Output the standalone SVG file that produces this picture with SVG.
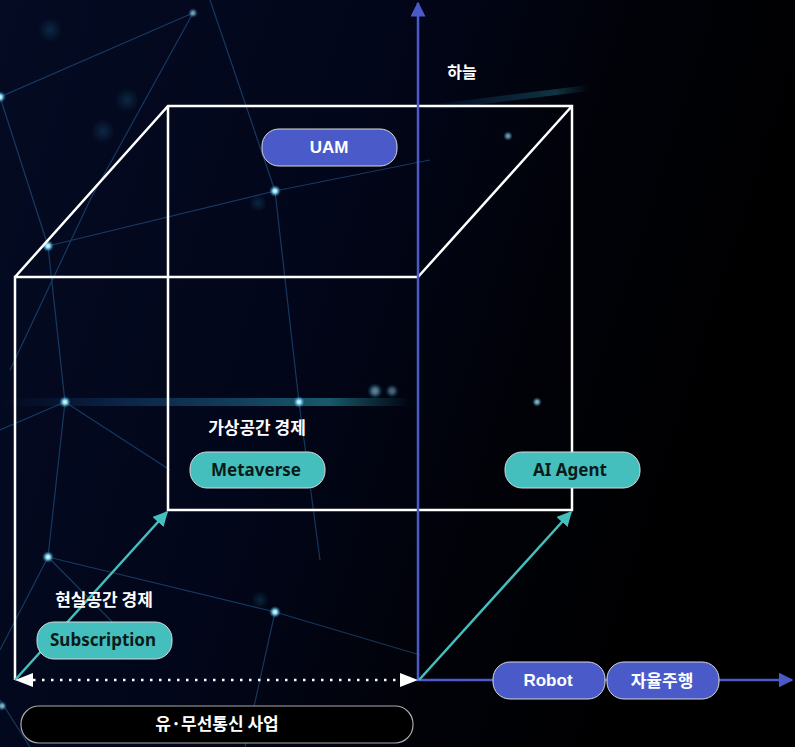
<svg xmlns="http://www.w3.org/2000/svg" width="795" height="747" viewBox="0 0 795 747">
<defs>
<linearGradient id="bg" x1="0" y1="0" x2="1" y2="0.3">
<stop offset="0" stop-color="#040b22"/>
<stop offset="0.45" stop-color="#02061a"/>
<stop offset="0.75" stop-color="#010208"/>
<stop offset="1" stop-color="#000000"/>
</linearGradient>
<radialGradient id="glow">
<stop offset="0" stop-color="#e8fbff"/>
<stop offset="0.35" stop-color="#8fdcf0"/>
<stop offset="1" stop-color="#1a6fa8" stop-opacity="0"/>
</radialGradient>
<radialGradient id="haze">
<stop offset="0" stop-color="#1b5f86" stop-opacity="0.35"/>
<stop offset="1" stop-color="#1b5f86" stop-opacity="0"/>
</radialGradient>
<linearGradient id="streak" x1="0" y1="0" x2="1" y2="0">
<stop offset="0" stop-color="#1a5a9a" stop-opacity="0"/>
<stop offset="0.3" stop-color="#1f6aa8" stop-opacity="0.5"/>
<stop offset="0.8" stop-color="#2fb6c6" stop-opacity="0.8"/>
<stop offset="1" stop-color="#2fb6c6" stop-opacity="0"/>
</linearGradient>
<marker id="blueHead" viewBox="0 0 10 10" refX="9" refY="5" markerWidth="6" markerHeight="6" markerUnits="strokeWidth" orient="auto">
<path d="M0,0 L10,5 L0,10 Z" fill="#4a5bc9"/>
</marker>
<marker id="tealHead" viewBox="0 0 10 10" refX="9" refY="5" markerWidth="6" markerHeight="6" markerUnits="strokeWidth" orient="auto">
<path d="M0,0 L10,5 L0,10 Z" fill="#45bfbd"/>
</marker>
</defs>
<style>
.net{stroke:#2a6aa6;stroke-width:1.2;fill:none;opacity:0.5}
.cube{stroke:#ffffff;stroke-width:2.5;fill:none}
.axis{stroke:#4a5bc9;stroke-width:2.5;fill:none}
.teal{stroke:#45bfbd;stroke-width:2.5;fill:none}
.pillT{fill:#45bfbd;stroke:#d8d8d8;stroke-width:1}
.pillB{fill:#4a5bc9;stroke:#d8d8d8;stroke-width:1}
.lab{font-family:"Noto Sans CJK KR","Noto Sans",sans-serif;font-weight:700;font-size:17px;fill:#ffffff;text-anchor:middle}
.dk{font-family:"Noto Sans","Noto Sans CJK KR",sans-serif;font-weight:700;font-size:17px;fill:#0b1a1a;text-anchor:middle}
.wt{font-family:"Liberation Sans","Noto Sans CJK KR",sans-serif;font-weight:700;font-size:17px;fill:#ffffff;text-anchor:middle}
</style>
<g id="background">
<rect width="795" height="747" fill="url(#bg)"/>
<path class="net" d="M0,97 L193,13 M0,97 L48,246 L65,402 L48,557 L0,650 M193,13 L90,200 L10,370 M210,0 L275,191 L299,402 L320,560 M48,246 L275,191 L430,160 M48,557 L275,612 L420,655 M275,612 L245,747 M65,402 L0,430 M65,402 L170,470 M0,700 L30,747 M48,557 L140,650"/>
<rect x="0" y="398" width="410" height="8" fill="url(#streak)" opacity="0.6"/>
<rect x="420" y="96" width="170" height="6" fill="url(#streak)" opacity="0.35" transform="rotate(-7 500 100)"/>
<circle cx="0" cy="97" r="6" fill="url(#glow)"/>
<circle cx="48" cy="246" r="6" fill="url(#glow)"/>
<circle cx="65" cy="402" r="6" fill="url(#glow)"/>
<circle cx="48" cy="557" r="6" fill="url(#glow)"/>
<circle cx="275" cy="191" r="6" fill="url(#glow)"/>
<circle cx="275" cy="612" r="6" fill="url(#glow)"/>
<circle cx="299" cy="402" r="6" fill="url(#glow)"/>
<circle cx="537" cy="402" r="5" fill="url(#glow)" opacity="0.7"/>
<circle cx="508" cy="136" r="5" fill="url(#glow)" opacity="0.6"/>
<circle cx="193" cy="13" r="5" fill="url(#glow)" opacity="0.6"/>
<circle cx="2" cy="706" r="5" fill="url(#glow)" opacity="0.7"/>
<circle cx="375" cy="391" r="8" fill="url(#glow)" opacity="0.5"/>
<circle cx="392" cy="391" r="7" fill="url(#glow)" opacity="0.4"/>
<circle cx="127" cy="100" r="12" fill="url(#haze)"/>
<circle cx="103" cy="131" r="12" fill="url(#haze)"/>
<circle cx="258" cy="203" r="9" fill="url(#haze)"/>
<circle cx="260" cy="600" r="9" fill="url(#haze)"/>
<circle cx="50" cy="30" r="12" fill="url(#haze)"/>
</g>
<g id="connectors">
<path class="cube" d="M15,680 L15,277 L418,277 M15,277 L168,106 L572,106 L572,510 L168,510 L168,106 M418,277 L572,106"/>
<line class="axis" x1="418" y1="681" x2="418" y2="3" marker-end="url(#blueHead)"/>
<line class="axis" x1="417" y1="680" x2="792" y2="680" marker-end="url(#blueHead)"/>
<line class="teal" x1="15" y1="680" x2="167" y2="512" marker-end="url(#tealHead)"/>
<line class="teal" x1="419" y1="680" x2="571" y2="512" marker-end="url(#tealHead)"/>
<line x1="33" y1="680" x2="400" y2="680" stroke="#ffffff" stroke-width="2.5" stroke-dasharray="2.5 6.5" stroke-linecap="butt"/>
<path d="M15,680 L33,673 L33,687 Z M418,680 L400,673 L400,687 Z" fill="#ffffff"/>
</g>
<g id="node-sky"><text class="lab" x="462" y="78" style="font-size:16px">하늘</text></g>
<g id="node-uam"><rect class="pillB" x="262" y="129" width="135" height="37" rx="17"/><text class="wt" x="329" y="153">UAM</text></g>
<g id="node-virtual-label"><text class="lab" x="257" y="434">가상공간 경제</text></g>
<g id="node-metaverse"><rect class="pillT" x="190" y="452" width="135" height="36" rx="17"/><text class="dk" x="256" y="476">Metaverse</text></g>
<g id="node-aiagent"><rect class="pillT" x="505" y="452" width="135" height="36" rx="17"/><text class="dk" x="570" y="476">AI Agent</text></g>
<g id="node-real-label"><text class="lab" x="104" y="606">현실공간 경제</text></g>
<g id="node-subscription"><rect class="pillT" x="37" y="622" width="135" height="37" rx="17"/><text class="dk" x="103" y="646">Subscription</text></g>
<g id="node-robot"><rect class="pillB" x="493" y="662" width="112" height="37" rx="17"/><text class="wt" x="548" y="686">Robot</text></g>
<g id="node-autonomous"><rect class="pillB" x="607" y="662" width="112" height="37" rx="17"/><text class="lab" x="662" y="687">자율주행</text></g>
<g id="node-telecom"><rect x="21" y="706" width="392" height="37" rx="18" fill="#000000" stroke="#aaaaaa" stroke-width="1.2"/><text class="lab" x="217" y="730">유·무선통신 사업</text></g>
</svg>
